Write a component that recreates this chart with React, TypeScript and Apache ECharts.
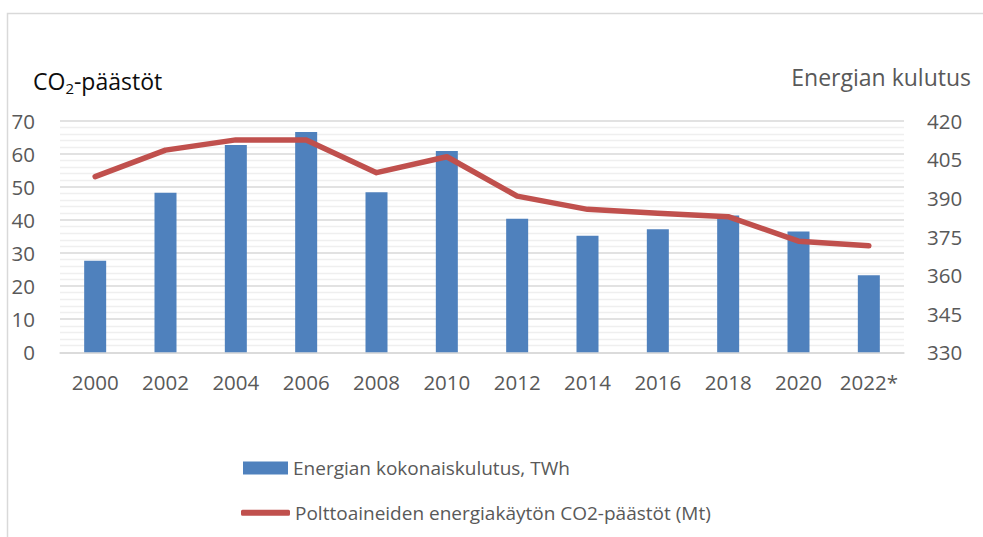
import React, { useEffect, useRef } from "react";
import * as echarts from "echarts";

const years = ["2000", "2002", "2004", "2006", "2008", "2010", "2012", "2014", "2016", "2018", "2020", "2022*"];
const energyTWh = [365.6, 392.0, 410.6, 415.6, 392.2, 408.2, 381.9, 375.3, 377.8, 383.2, 376.9, 359.9];
const co2Mt = [53.1, 61.1, 64.2, 64.2, 54.3, 59.1, 47.2, 43.2, 42.0, 41.0, 33.6, 32.2];
const leftTicks = { min: 0, max: 70, interval: 10 };
const rightTicks = { min: 330, max: 420, interval: 15 };

const barName = "Energian kokonaiskulutus, TWh";
const lineName = "Polttoaineiden energiakäytön CO2-päästöt (Mt)";

const FONT = "'Open Sans', 'Noto Sans', sans-serif";
const GRAY = "#595959";

export default function App() {
  const ref = useRef<HTMLDivElement>(null);
  useEffect(() => {
    if (!ref.current) return;
    const chart = echarts.init(ref.current, undefined, { renderer: "svg" });
    chart.setOption({
      animation: false,
      backgroundColor: "#ffffff",
      textStyle: { fontFamily: FONT },
      grid: { left: 60, right: 79, top: 120.7, bottom: 184.7 },
      graphic: [
        {
          type: "polyline",
          shape: { points: [[7.5, 540], [7.5, 13.5], [990, 13.5]] },
          style: { stroke: "#d9d9d9", lineWidth: 1.5, fill: null },
          silent: true,
        },
        {
          type: "text",
          left: 33,
          top: 69,
          style: {
            text: "{n|CO}{s|2}{n|-päästöt}",
            fontFamily: FONT,
            rich: {
              n: { fontSize: 23, fontFamily: FONT, fill: "#0d0d0d", lineHeight: 30 },
              s: { fontSize: 15, fontFamily: FONT, fill: "#0d0d0d", verticalAlign: "bottom", lineHeight: 19 },
            },
          },
        },
        {
          type: "text",
          right: 12,
          top: 65,
          style: { text: "Energian kulutus", fontSize: 23, fontFamily: FONT, fill: GRAY },
        },
      ],
      legend: [
        {
          data: [{ name: barName, icon: "rect" }],
          left: 243,
          top: 457,
          padding: 0,
          itemWidth: 45,
          itemHeight: 13,
          textStyle: { fontSize: 19, color: GRAY, fontFamily: FONT, lineHeight: 22 },
          selectedMode: false,
        },
        {
          data: [{ name: lineName, icon: "roundRect" }],
          left: 241,
          top: 501.7,
          padding: 0,
          itemWidth: 49,
          itemHeight: 6,
          textStyle: { fontSize: 19, color: GRAY, fontFamily: FONT, lineHeight: 22 },
          selectedMode: false,
        },
      ],
      xAxis: {
        type: "category",
        data: years,
        boundaryGap: true,
        axisLine: { lineStyle: { color: "#d9d9d9", width: 1.5 } },
        axisTick: { show: false },
        axisLabel: { color: GRAY, fontSize: 20.5, margin: 19, fontFamily: FONT, interval: 0 },
      },
      yAxis: [
        {
          type: "value",
          min: leftTicks.min,
          max: leftTicks.max,
          interval: leftTicks.interval,
          axisLine: { show: false },
          axisTick: { show: false },
          axisLabel: { color: GRAY, fontSize: 20.5, margin: 25, fontFamily: FONT },
          splitLine: { lineStyle: { color: "#d9d9d9", width: 1.6 } },
          minorTick: { show: false, splitNumber: 5 },
          minorSplitLine: { show: true, lineStyle: { color: "#efefef", width: 1.3 } },
        },
        {
          type: "value",
          min: rightTicks.min,
          max: rightTicks.max,
          interval: rightTicks.interval,
          position: "right",
          axisLine: { show: false },
          axisTick: { show: false },
          axisLabel: { color: GRAY, fontSize: 20.5, margin: 23, fontFamily: FONT },
          splitLine: { show: false },
        },
      ],
      series: [
        {
          name: barName,
          type: "bar",
          yAxisIndex: 1,
          data: energyTWh,
          barWidth: 22,
          itemStyle: { color: "#4f81bd" },
          z: 2,
        },
        {
          name: lineName,
          type: "line",
          yAxisIndex: 0,
          data: co2Mt,
          symbol: "none",
          lineStyle: { color: "#c0504d", width: 5.5, cap: "round", join: "round" },
          itemStyle: { color: "#c0504d" },
          z: 3,
        },
      ],
    });
    return () => chart.dispose();
  }, []);
  return (
    <div
      ref={ref}
      style={{ position: "fixed", left: 0, top: 0, width: 983, height: 537 }}
    />
  );
}
